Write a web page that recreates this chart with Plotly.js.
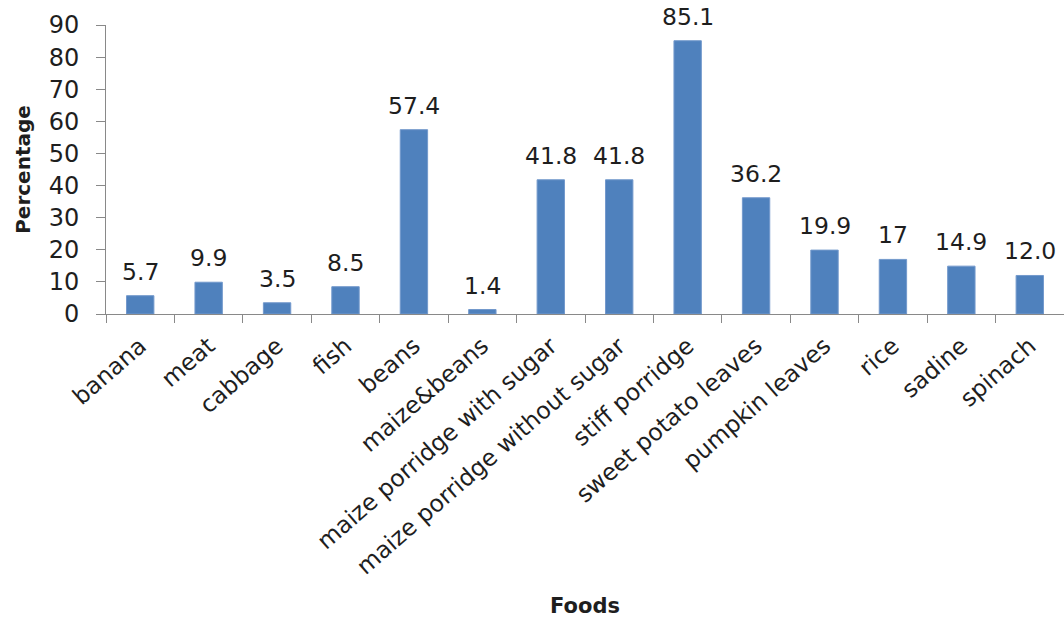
<!DOCTYPE html>
<html>
<head>
<meta charset="utf-8">
<script src="https://cdn.plot.ly/plotly-3.0.1.min.js"></script>
<style>
  html, body { margin: 0; padding: 0; background: #fff; overflow: hidden; }
  #chart { width: 1064px; height: 618px; }
</style>
</head>
<body>
<div id="chart"></div>
<script>
// Share of respondents per food item
const foods = [
  "banana", "meat", "cabbage", "fish", "beans", "maize&beans",
  "maize porridge with sugar", "maize porridge without sugar",
  "stiff porridge", "sweet potato leaves", "pumpkin leaves",
  "rice", "sadine", "spinach"
];
const percentages = [5.7, 9.9, 3.5, 8.5, 57.4, 1.4, 41.8, 41.8, 85.1, 36.2, 19.9, 17, 14.9, 12.0];
const valueLabels = ["5.7", "9.9", "3.5", "8.5", "57.4", "1.4", "41.8", "41.8", "85.1", "36.2", "19.9", "17", "14.9", "12.0"];
const yTicks = [0, 10, 20, 30, 40, 50, 60, 70, 80, 90];

const FONT = "DejaVu Sans, Open Sans, sans-serif";
const AXIS_GRAY = "#898989";
const TEXT = "#1e1e1e";

const trace = {
  type: "bar",
  x: foods,
  y: percentages,
  marker: { color: "#4F81BD", line: { color: "#7399cc", width: 1 } },
  hoverinfo: "x+y",
  cliponaxis: false
};

// value labels sit above each bar
const labels = foods.map((f, i) => ({
  x: f,
  y: percentages[i],
  text: valueLabels[i],
  xref: "x",
  yref: "y",
  showarrow: false,
  yanchor: "bottom",
  yshift: 8,
  font: { family: FONT, size: 23.5, color: TEXT }
}));

const layout = {
  width: 1064,
  height: 618,
  paper_bgcolor: "#fff",
  plot_bgcolor: "#fff",
  margin: { l: 106, r: 0, t: 25, b: 304 },
  showlegend: false,
  bargap: 0.6,
  font: { family: FONT, color: TEXT },
  xaxis: {
    type: "category",
    tickangle: -41,
    tickson: "boundaries",
    ticks: "outside",
    ticklen: 8,
    tickcolor: AXIS_GRAY,
    showline: true,
    linecolor: AXIS_GRAY,
    linewidth: 1,
    showgrid: false,
    zeroline: false,
    ticklabelstandoff: 8,
    tickfont: { family: FONT, size: 23.5, color: TEXT },
    title: { text: "<b>Foods</b>", font: { family: FONT, size: 21, color: TEXT }, standoff: 26 },
    automargin: false
  },
  yaxis: {
    range: [0, 90],
    tickvals: yTicks,
    ticks: "outside",
    ticklen: 9,
    tickcolor: AXIS_GRAY,
    showline: true,
    linecolor: AXIS_GRAY,
    linewidth: 1,
    showgrid: false,
    zeroline: false,
    ticklabelstandoff: 12,
    tickfont: { family: FONT, size: 24, color: TEXT },
    title: { text: "<b>Percentage</b>", font: { family: FONT, size: 20, color: TEXT }, standoff: 12 },
    automargin: false
  },
  annotations: labels
};

Plotly.newPlot("chart", [trace], layout, { displayModeBar: false, staticPlot: true });
</script>
</body>
</html>
